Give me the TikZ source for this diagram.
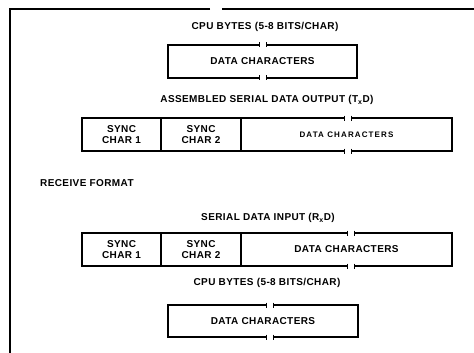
\documentclass[tikz,border=0pt]{standalone}
\usepackage{fontspec}
\setmainfont{Liberation Sans}
\newfontfamily\boxfont[LetterSpace=4]{Liberation Sans}
\newfontfamily\narrowfont[LetterSpace=14]{Liberation Sans}
\usetikzlibrary{positioning}

\tikzset{
	field/.style = {draw, line width=1.1pt, inner sep=0pt, minimum height=33pt,
		font=\boxfont\bfseries\fontsize{10}{11.5}\selectfont, align=center},
	title/.style = {font=\boxfont\bfseries\fontsize{10}{11}\selectfont, inner sep=0pt}
}
% break in a box edge: white gap with a short tick on each side
\newcommand{\cutmark}[2]{%
	\fill[white] (#1-3.5,#2-3) rectangle (#1+3.5,#2+3);
	\draw[line width=1pt] (#1-3.5,#2-2.5) -- (#1-3.5,#2+2.5) (#1+3.5,#2-2.5) -- (#1+3.5,#2+2.5);}

\begin{document}
\begin{tikzpicture}[x=1pt,y=-1pt]
	\useasboundingbox (0,0) rectangle (474,353);
	% frame
	\draw[line width=1.2pt] (210,9) -- (10,9) -- (10,353);
	\draw[line width=1.2pt] (222,9) -- (474,9);

	% transmit side
	\node[title] (txBytes) at (265,27) {CPU BYTES (5-8 BITS/CHAR)};
	\node[field, minimum width=189pt] (txCpu) at (262.5,61.5) {DATA CHARACTERS};
	\node[title] (txOut) at (267,100) {ASSEMBLED SERIAL DATA OUTPUT (T\textsubscript{x}D)};
	\node[field, minimum width=79pt] (txSyncA) at (121.5,134.5) {SYNC\\CHAR 1};
	\node[field, minimum width=80pt] (txSyncB) at (201,134.5) {SYNC\\CHAR 2};
	\node[field, minimum width=211pt, font=\narrowfont\bfseries\fontsize{8}{10}\selectfont] (txData) at (346.5,134.5) {DATA CHARACTERS};
	\cutmark{263}{45}
	\cutmark{263}{78}
	\cutmark{348}{118}
	\cutmark{348}{151}

	% receive side
	\node[title, anchor=west] (rxFormat) at (40,183) {RECEIVE FORMAT};
	\node[title] (rxIn) at (268,218) {SERIAL DATA INPUT (R\textsubscript{x}D)};
	\node[field, minimum width=79pt] (rxSyncA) at (121.5,249.5) {SYNC\\CHAR 1};
	\node[field, minimum width=80pt] (rxSyncB) at (201,249.5) {SYNC\\CHAR 2};
	\node[field, minimum width=211pt] (rxData) at (346.5,249.5) {DATA CHARACTERS};
	\node[title] (rxBytes) at (267,283) {CPU BYTES (5-8 BITS/CHAR)};
	\node[field, minimum width=190pt, minimum height=32pt] (rxCpu) at (263,321) {DATA CHARACTERS};
	\cutmark{351}{233}
	\cutmark{351}{266}
	\cutmark{270}{305}
	\cutmark{270}{337}
\end{tikzpicture}
\end{document}
